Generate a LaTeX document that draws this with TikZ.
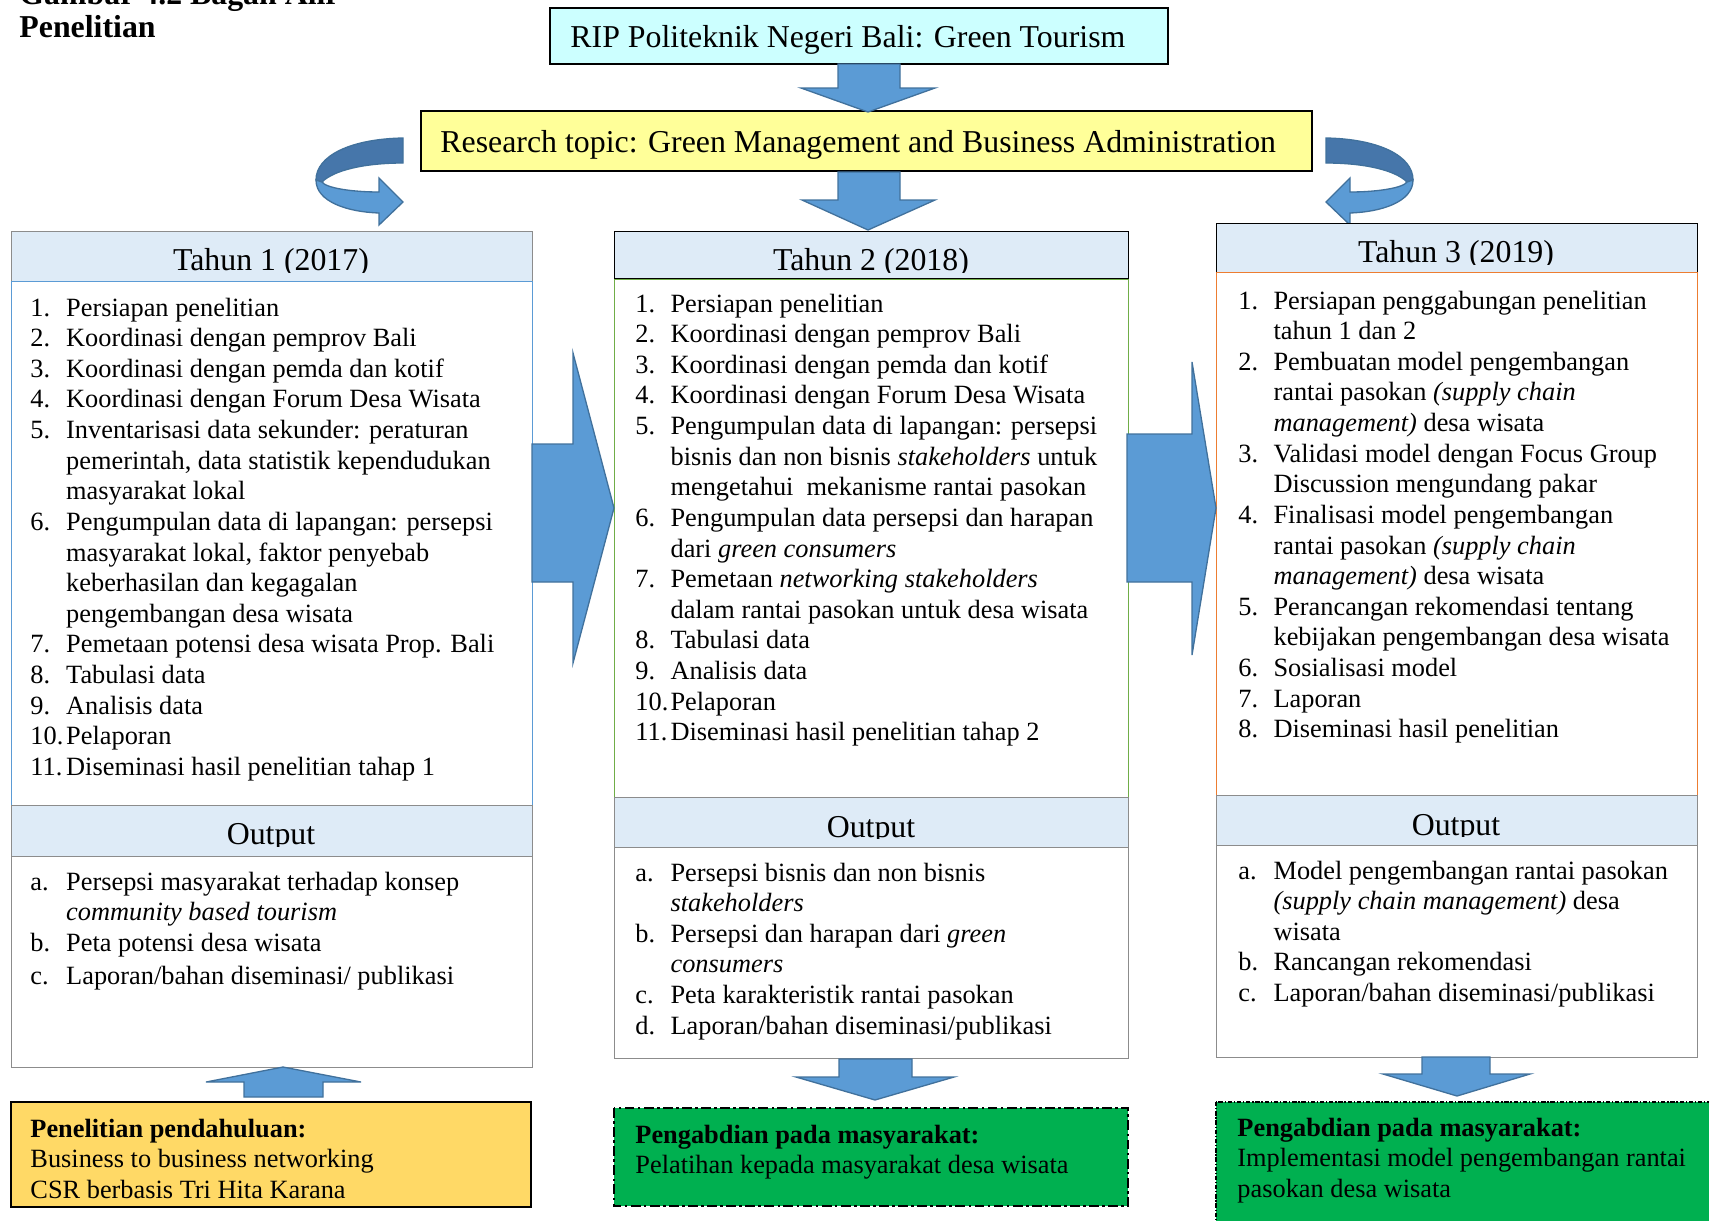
\documentclass[tikz,border=0pt]{standalone}
\usepackage{fontspec}
\setmainfont{Liberation Serif}
\usepackage{tikz}
\usetikzlibrary{calc}

\definecolor{hdblue}{HTML}{DEEBF7}
\definecolor{ripcyan}{HTML}{CCFFFF}
\definecolor{topicyellow}{HTML}{FFFF99}
\definecolor{preyellow}{HTML}{FFD966}
\definecolor{pkmgreen}{HTML}{00B050}
\definecolor{arrowfill}{HTML}{5B9BD5}
\definecolor{arrowline}{HTML}{41719C}
\definecolor{arrowback}{HTML}{4676AA}
\definecolor{yroneline}{HTML}{5B9BD5}
\definecolor{yrtwoline}{HTML}{70AD47}
\definecolor{yrthreeline}{HTML}{ED7D31}
\definecolor{boxgray}{HTML}{8C8C8C}

\newcommand{\listfont}{\fontsize{12}{13.95}\selectfont}
\newcommand{\bigfont}{\fontsize{14.5}{17}\selectfont}

\begin{document}
\begin{tikzpicture}[x=0.016cm,y=-0.016cm,
  blk/.style={fill=arrowfill,draw=arrowline,line width=0.6pt},
  hd/.style={anchor=base,inner sep=0pt,font=\bigfont},
  lst/.style={anchor=base west,inner sep=0pt,font=\listfont},
  txt/.style={anchor=base west,inner sep=0pt,font=\bigfont},
  pkm/.style={fill=pkmgreen,draw=black}]
  \useasboundingbox (0,0) rectangle (1709,1220);

  % title, first line runs off the page
  \node[anchor=base west,inner sep=0pt,font={\fontsize{14.5}{14.8}\selectfont\bfseries}] (title) at (19,4.5)
    {\begin{tabular}[t]{@{}l@{}}Gambar 4.2 Bagan Alir\\Penelitian\end{tabular}};

  % top boxes
  \draw[fill=ripcyan,line width=0.7pt] (550,8) rectangle (1168,64);
  \node[txt] (rip) at (570,47) {RIP Politeknik Negeri Bali: Green Tourism};
  \draw[fill=topicyellow,line width=0.7pt] (421,111) rectangle (1312,171);
  \node[txt] (topic) at (440,152) {Research topic: Green Management and Business Administration};

  % down arrows under the top boxes
  \draw[blk] (838,64) -- (900,64) -- (900,88) -- (935,88) -- (868,112) -- (801,88) -- (838,88) -- cycle;
  \draw[blk] (838,172) -- (900,172) -- (900,200) -- (935,200) -- (868,230) -- (802,200) -- (838,200) -- cycle;

  % curled arrows left and right of the topic box
  \foreach \sx/\dx in {1/0,-1/1729} {
    \begin{scope}[shift={(\dx,0)},xscale=\sx]
      \draw[blk,fill=arrowback] (403,138) .. controls (350,139) and (316,156) .. (316,180)
        -- (322,182) .. controls (334,170) and (365,163) .. (403,163) -- cycle;
      \draw[blk] (316,180) .. controls (316,202) and (348,212) .. (379,213) -- (379,225) -- (403,202)
        -- (379,178) -- (379,192) .. controls (352,192) and (326,188) .. (322,182) -- cycle;
    \end{scope}
  }

  % Tahun 1 column
  \draw[fill=hdblue,draw=boxgray] (11,231) rectangle (532,281);
  \draw[yroneline] (11,281) rectangle (532,805);
  \draw[fill=hdblue,draw=boxgray] (11,805) rectangle (532,856);
  \draw[boxgray] (11,856) rectangle (532,1067);
  \begin{scope}
    \clip (11,231) rectangle (532,272);
    \node[hd] (h1) at (271,270) {Tahun 1 (2017)};
  \end{scope}
  \begin{scope}
    \clip (11,805) rectangle (532,846);
    \node[hd] (o1) at (271,844) {Output};
  \end{scope}
  \node[lst] (l1) at (30,316) {\begin{tabular}[t]{@{}p{16.3pt}@{}l@{}}
    1. & Persiapan penelitian\\
    2. & Koordinasi dengan pemprov Bali\\
    3. & Koordinasi dengan pemda dan kotif\\
    4. & Koordinasi dengan Forum Desa Wisata\\
    5. & Inventarisasi data sekunder: peraturan\\
       & pemerintah, data statistik kependudukan\\
       & masyarakat lokal\\
    6. & Pengumpulan data di lapangan: persepsi\\
       & masyarakat lokal, faktor penyebab\\
       & keberhasilan dan kegagalan\\
       & pengembangan desa wisata\\
    7. & Pemetaan potensi desa wisata Prop. Bali\\
    8. & Tabulasi data\\
    9. & Analisis data\\
    10. & Pelaporan\\
    11. & Diseminasi hasil penelitian tahap 1
  \end{tabular}};
  \node[lst] (out1) at (30,890) {\begin{tabular}[t]{@{}p{16.3pt}@{}l@{}}
    a. & Persepsi masyarakat terhadap konsep\\
       & \textit{community based tourism}\\
    b. & Peta potensi desa wisata\\[1.2pt]
    c. & Laporan/bahan diseminasi/ publikasi
  \end{tabular}};

  % Tahun 2 column
  \draw[fill=hdblue] (614,231) rectangle (1128,278);
  \draw[yrtwoline] (614,279) rectangle (1128,797);
  \draw[fill=hdblue,draw=boxgray] (614,797) rectangle (1128,847);
  \draw[boxgray] (614,847) rectangle (1128,1058);
  \begin{scope}
    \clip (614,231) rectangle (1128,272);
    \node[hd] (h2) at (871,270) {Tahun 2 (2018)};
  \end{scope}
  \begin{scope}
    \clip (614,797) rectangle (1128,838);
    \node[hd] (o2) at (871,837) {Output};
  \end{scope}
  \node[lst] (l2) at (635,312) {\begin{tabular}[t]{@{}p{16pt}@{}l@{}}
    1. & Persiapan penelitian\\
    2. & Koordinasi dengan pemprov Bali\\
    3. & Koordinasi dengan pemda dan kotif\\
    4. & Koordinasi dengan Forum Desa Wisata\\
    5. & Pengumpulan data di lapangan: persepsi\\
       & bisnis dan non bisnis \textit{stakeholders} untuk\\
       & mengetahui\ \ mekanisme rantai pasokan\\
    6. & Pengumpulan data persepsi dan harapan\\
       & dari \textit{green consumers}\\
    7. & Pemetaan \textit{networking stakeholders}\\
       & dalam rantai pasokan untuk desa wisata\\
    8. & Tabulasi data\\
    9. & Analisis data\\
    10. & Pelaporan\\
    11. & Diseminasi hasil penelitian tahap 2
  \end{tabular}};
  \node[lst] (out2) at (635,881) {\begin{tabular}[t]{@{}p{16pt}@{}l@{}}
    a. & Persepsi bisnis dan non bisnis\\
       & \textit{stakeholders}\\
    b. & Persepsi dan harapan dari \textit{green}\\
       & \textit{consumers}\\
    c. & Peta karakteristik rantai pasokan\\
    d. & Laporan/bahan diseminasi/publikasi
  \end{tabular}};

  % Tahun 3 column
  \draw[fill=hdblue] (1216,223) rectangle (1697,272);
  \draw[yrthreeline] (1216,272) rectangle (1697,795);
  \draw[fill=hdblue,draw=boxgray] (1216,795) rectangle (1697,845);
  \draw[boxgray] (1216,845) rectangle (1697,1057);
  \begin{scope}
    \clip (1216,223) rectangle (1697,264);
    \node[hd] (h3) at (1456,262) {Tahun 3 (2019)};
  \end{scope}
  \begin{scope}
    \clip (1216,795) rectangle (1697,836);
    \node[hd] (o3) at (1456,835) {Output};
  \end{scope}
  \node[lst] (l3) at (1238,309) {\begin{tabular}[t]{@{}p{16pt}@{}l@{}}
    1. & Persiapan penggabungan penelitian\\
       & tahun 1 dan 2\\
    2. & Pembuatan model pengembangan\\
       & rantai pasokan \textit{(supply chain}\\
       & \textit{management)} desa wisata\\
    3. & Validasi model dengan Focus Group\\
       & Discussion mengundang pakar\\
    4. & Finalisasi model pengembangan\\
       & rantai pasokan \textit{(supply chain}\\
       & \textit{management)} desa wisata\\
    5. & Perancangan rekomendasi tentang\\
       & kebijakan pengembangan desa wisata\\
    6. & Sosialisasi model\\
    7. & Laporan\\
    8. & Diseminasi hasil penelitian
  \end{tabular}};
  \node[lst] (out3) at (1238,879) {\begin{tabular}[t]{@{}p{16pt}@{}l@{}}
    a. & Model pengembangan rantai pasokan\\
       & \textit{(supply chain management)} desa\\
       & wisata\\
    b. & Rancangan rekomendasi\\
    c. & Laporan/bahan diseminasi/publikasi
  \end{tabular}};

  % arrows between the years
  \draw[blk] (532,444) -- (573,444) -- (573,353) -- (614,508) -- (573,663) -- (573,582) -- (532,582) -- cycle;
  \draw[blk] (1127,434) -- (1192,434) -- (1192,362) -- (1216,508) -- (1192,655) -- (1192,582) -- (1127,582) -- cycle;

  % arrows at the bottom
  \draw[blk] (244,1097) -- (244,1082) -- (206,1082) -- (283,1067) -- (361,1082) -- (323,1082) -- (323,1097) -- cycle;
  \draw[blk] (839,1059) -- (912,1059) -- (912,1077) -- (954,1077) -- (875,1100) -- (796,1077) -- (839,1077) -- cycle;
  \draw[blk] (1422,1057) -- (1490,1057) -- (1490,1074) -- (1530,1074) -- (1457,1096) -- (1383,1074) -- (1422,1074) -- cycle;

  % bottom boxes
  \draw[fill=preyellow,line width=0.8pt] (11,1102) rectangle (531,1207);
  \begin{scope}
    \clip (11,1102) rectangle (531,1198);
    \node[lst] (pre) at (30,1137) {\begin{tabular}[t]{@{}l@{}}
      \textbf{Penelitian pendahuluan:}\\
      Business to business networking\\
      CSR berbasis Tri Hita Karana
    \end{tabular}};
  \end{scope}
  \draw[pkm,line width=1pt,dash pattern=on 4.5pt off 1.5pt on 1.2pt off 1.5pt] (614,1108) rectangle (1128,1206);
  \node[lst] (pkm2) at (635,1143) {\begin{tabular}[t]{@{}l@{}}
    \textbf{Pengabdian pada masyarakat:}\\
    Pelatihan kepada masyarakat desa wisata
  \end{tabular}};
  \draw[pkm,line width=0.5pt,dash pattern=on 2pt off 0.8pt on 0.6pt off 0.8pt] (1216,1102) rectangle (1740,1250);
  \node[lst] (pkm3) at (1237,1136) {\begin{tabular}[t]{@{}l@{}}
    \textbf{Pengabdian pada masyarakat:}\\
    Implementasi model pengembangan rantai\\
    pasokan desa wisata
  \end{tabular}};
\end{tikzpicture}
\end{document}
